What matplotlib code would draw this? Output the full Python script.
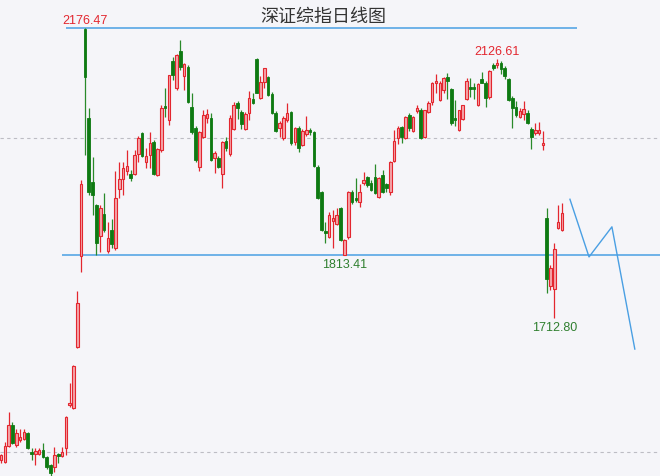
import numpy as np
import matplotlib
matplotlib.use("Agg")
import matplotlib.pyplot as plt

plt.rcParams['font.family'] = ['Noto Sans CJK SC', 'DejaVu Sans']

# daily candles (index = trading day)
opens = [1487, 1484, 1510, 1543, 1511, 1519, 1521, 1530, 1499, 1497, 1497, 1503, 1492, 1479, 1476, 1497, 1494, 1506, 1574, 1570, 1667, 1813,
         2175, 2033, 1931, 1894, 1844, 1880, 1821, 1854, 1825, 1919, 1935, 1948, 1944, 1944, 1975, 2008, 1962, 1974, 1994, 1942, 1982, 2052,
         2030, 2124, 2081, 2140, 2100, 2114, 2050, 2016, 1955, 2002, 2033, 2033, 1969, 1969, 1944, 1996,
         1975, 2015, 2057, 2042, 2015, 2041, 2063, 2127, 2065, 2090, 2098, 2071, 2041, 2017, 2001, 2030, 2042, 1994, 2017, 1990,
         2007, 2014, 2010, 1955, 1914, 1853, 1843, 1868, 1864, 1889, 1814, 1843, 1915, 1905, 1899, 1929, 1938, 1929, 1938, 1907,
         1942, 1927, 1915, 1964, 2001,
         2018, 2001, 2037, 2012, 2044, 2045, 2002, 2042, 2058, 2089, 2061, 2077, 2098, 2079, 2033, 2013, 2031, 2063, 2082, 2082,
         2053, 2095, 2088, 2066, 2117, 2117, 2120, 2112, 2095, 2064, 2050, 2034, 2039, 2041, 2015, 2008, 2008, 1989, 1873, 1765,
         1760, 1857, 1854]
highs = [1497, 1516, 1564, 1547, 1536, 1536, 1536, 1532, 1506, 1506, 1506, 1514, 1494, 1481, 1508, 1498, 1508, 1557, 1610, 1638, 1757, 1934,
         2176.47, 2049, 1970, 1895, 1894, 1913, 1867, 1872, 1948, 1962, 1963, 1982, 1949, 1982, 2004, 2010, 1985, 2011, 1997, 1985, 2053, 2080,
         2101, 2130, 2135, 2157, 2121, 2117, 2073, 2020, 2012, 2045, 2047, 2041, 1980, 1972, 1996, 2002,
         2037, 2058, 2059, 2045, 2043, 2076, 2073, 2128, 2099, 2113, 2100, 2074, 2044, 2028, 2036, 2057, 2044, 2018, 2020, 2015,
         2036, 2016, 2012, 1958, 1916, 1866, 1883, 1886, 1889, 1891, 1840, 1916, 1917, 1937, 1928, 1947, 1940, 1934, 1959, 1939,
         1950, 1929, 1964, 2013, 2020,
         2020, 2036, 2041, 2036, 2053, 2048, 2046, 2060, 2090, 2103, 2091, 2098, 2105, 2081, 2061, 2046, 2054, 2096, 2096, 2088,
         2088, 2106, 2092, 2109, 2120, 2126.61, 2124, 2115, 2097, 2068, 2059, 2049, 2060, 2045, 2019, 2025, 2027, 2012, 1889, 1798,
         1833, 1894, 1897]
lows = [1483, 1482, 1508, 1512, 1508, 1515, 1519, 1504, 1487, 1479, 1495, 1491, 1473, 1460, 1468, 1482, 1492, 1495, 1572, 1568, 1665, 1787,
        1974, 1910, 1878, 1814, 1819, 1850, 1817, 1826, 1822, 1905, 1910, 1942, 1932, 1942, 1962, 1970, 1953, 1953, 1942, 1940, 1978, 2034,
        2022, 2093, 2078, 2109, 2077, 2056, 2007, 1963, 1948, 2000, 2024, 1964, 1945, 1953, 1921, 1980,
        1972, 2013, 2031, 2015, 2013, 2029, 2055, 2072, 2063, 2081, 2067, 2039, 2010, 2003, 1998, 2027, 1990, 1990, 1979, 1988,
        2004, 2006, 1954, 1903, 1852, 1833, 1841, 1825, 1862, 1836, 1813.41, 1840, 1896, 1899, 1890, 1926, 1922, 1916, 1911, 1905,
        1913, 1915, 1910, 1963, 1991,
        1992, 1999, 2012, 2010, 2041, 1999, 2000, 2040, 2054, 2072, 2060, 2072, 2063, 2021, 2020, 2012, 2030, 2061, 2066, 2063,
        2051, 2088, 2050, 2063, 2109, 2113, 2103, 2095, 2059, 2017, 2035, 2032, 2030, 2023, 1983, 2006, 2006, 1982, 1754, 1758,
        1712.80, 1855, 1852]
closes = [1495, 1510, 1543, 1514, 1530, 1523, 1531, 1506, 1496, 1502, 1503, 1492, 1476, 1466, 1495, 1494, 1499, 1556, 1578, 1637, 1738, 1927,
          2098, 1915, 1910, 1833, 1889, 1854, 1841, 1832, 1905, 1935, 1953, 1956, 1937, 1974, 2000, 1972, 1972, 1993, 1944, 1983, 2049, 2048,
          2101, 2101, 2133, 2114, 2119, 2058, 2010, 1966, 2010, 2037, 2039, 1966, 1977, 1955, 1994, 1985,
          2033, 2053, 2049, 2023, 2039, 2065, 2057, 2073, 2090, 2112, 2069, 2041, 2012, 2025, 2033, 2041, 1993, 2017, 1985, 2012,
          2014, 2010, 1956, 1905, 1854, 1849, 1878, 1873, 1878, 1838, 1838, 1915, 1899, 1902, 1915, 1934, 1926, 1918, 1913, 1937,
          1915, 1921, 1962, 1996, 2017,
          2002, 2034, 2017, 2034, 2049, 2001, 2045, 2057, 2088, 2092, 2088, 2096, 2092, 2025, 2030, 2045, 2053, 2092, 2079, 2079,
          2087, 2089, 2065, 2107, 2112, 2120, 2111, 2100, 2061, 2049, 2038, 2044, 2047, 2025, 2002, 2013, 2013, 1992, 1776, 1793,
          1824, 1867, 1881]

# projected path drawn after the last candle
proj_x = [149.1, 154.1, 160.1, 166.1]
proj_y = [1903, 1811, 1859, 1664]

top_level = 2176.47
low_level = 1813.41
grid_levels = [2000, 1500]

red = '#e3262f'
pink = '#f4a6aa'
green = '#0e7a12'
blue = '#4a9fe3'

fig = plt.figure(figsize=(6.6, 4.77), dpi=100)
fig.patch.set_facecolor('#f5f5f9')
ax = fig.add_axes([0, 0, 1, 1])
ax.set_facecolor('#f5f5f9')
ax.set_xlim(-0.26, 172.7)
ax.set_ylim(1461.5, 2222.5)
ax.axis('off')

for g in grid_levels:
    ax.axhline(g, color='#bdbdc4', lw=0.8, ls=(0, (3, 3)), zorder=1)

ax.hlines(top_level, 17, 151, color=blue, lw=1.1, zorder=2)
ax.hlines(low_level, 16, 173, color=blue, lw=1.1, zorder=2)

o = np.array(opens, float)
h = np.array(highs, float)
l = np.array(lows, float)
c = np.array(closes, float)
x = np.arange(len(o))
up = c >= o

ax.vlines(x[up], l[up], h[up], color=red, lw=0.9, zorder=3)
ax.vlines(x[~up], l[~up], h[~up], color='#2a8a2a', lw=0.9, zorder=3)

body_lo = np.minimum(o, c)
body_h = np.maximum(np.abs(c - o), 1.5)
ax.bar(x[up], body_h[up], bottom=body_lo[up], width=0.68,
       color=pink, edgecolor=red, linewidth=0.8, zorder=4)
ax.bar(x[~up], body_h[~up], bottom=body_lo[~up], width=0.68,
       color=green, edgecolor=green, linewidth=0.6, zorder=4)

ax.plot(proj_x, proj_y, color=blue, lw=1.0, zorder=3)

lab_kw = dict(textcoords='offset points', ha='center', va='center', fontsize=9,
              family=['Liberation Sans', 'DejaVu Sans'])
ax.annotate('2176.47', (22, top_level), xytext=(0, 5.5), color=red, **lab_kw)
ax.annotate('2126.61', (130, 2126.61), xytext=(0, 5.5), color=red, **lab_kw)
ax.annotate('1813.41', (90, low_level), xytext=(0, -6), color='#2f7f2f', **lab_kw)
ax.annotate('1712.80', (145, 1712.80), xytext=(0, -6), color='#2f7f2f', **lab_kw)

fig.text(323 / 660, 1 - 17 / 477, '深证综指日线图', ha='center', va='center',
         fontsize=13, color='#333333')

fig.savefig('out.png', dpi=100, facecolor=fig.get_facecolor())
